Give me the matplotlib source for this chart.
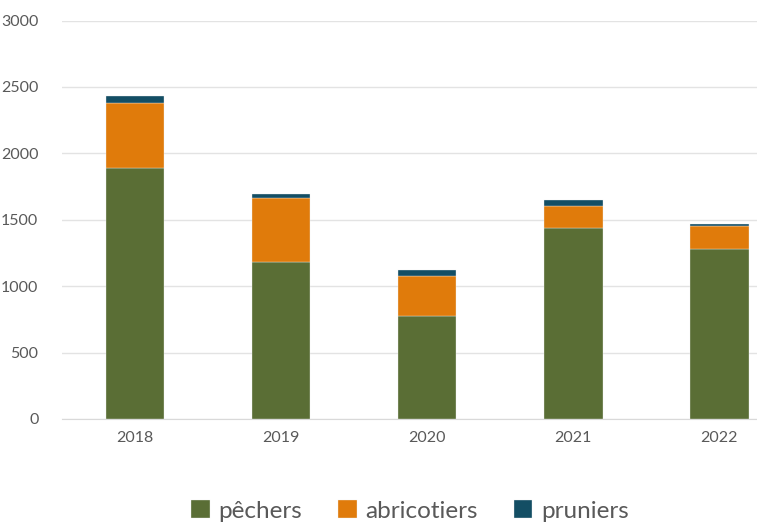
import numpy as np
import matplotlib
matplotlib.use("Agg")
import matplotlib.pyplot as plt

years = ["2018", "2019", "2020", "2021", "2022"]
pechers = [1890, 1180, 775, 1435, 1280]
abricotiers = [490, 485, 300, 170, 175]
pruniers = [50, 30, 45, 40, 12]

colors = ["#5a6e35", "#e07b0b", "#134e64"]
labels = ["pêchers", "abricotiers", "pruniers"]

plt.rcParams["font.family"] = ["Lato", "DejaVu Sans"]

fig = plt.figure(figsize=(7.57, 5.24), dpi=100)
ax = fig.add_axes([62 / 757, 105 / 524, 1 - 62 / 757, (419 - 20.5) / 524])

x = np.arange(len(years))
w = 0.4
bottom = np.zeros(len(years))
for vals, c, lab in zip([pechers, abricotiers, pruniers], colors, labels):
    ax.bar(x, vals, w, bottom=bottom, color=c, label=lab,
           edgecolor="#f0f0f0", linewidth=0.25, zorder=3)
    bottom += np.array(vals)

ax.set_xlim(-0.5, 4.257)
ax.set_ylim(0, 3000)
ax.set_yticks(range(0, 3001, 500))
ax.set_xticks(x)
ax.set_xticklabels(years)
ax.grid(axis="y", color="#e3e3e3", linewidth=1, zorder=0)
for s in ["top", "right", "left"]:
    ax.spines[s].set_visible(False)
ax.spines["bottom"].set_color("#d9d9d9")
ax.tick_params(axis="both", length=0, labelsize=11.5, labelcolor="#595959")
ax.tick_params(axis="y", pad=17)
ax.tick_params(axis="x", pad=9)

fig.legend(loc="center", bbox_to_anchor=(410 / 757, 1 - 511 / 524),
           ncol=3, frameon=False, fontsize=17.5, labelcolor="#595959",
           handlelength=0.75, handleheight=0.75, handletextpad=0.35,
           columnspacing=1.5)

fig.savefig("out.png", dpi=100)
